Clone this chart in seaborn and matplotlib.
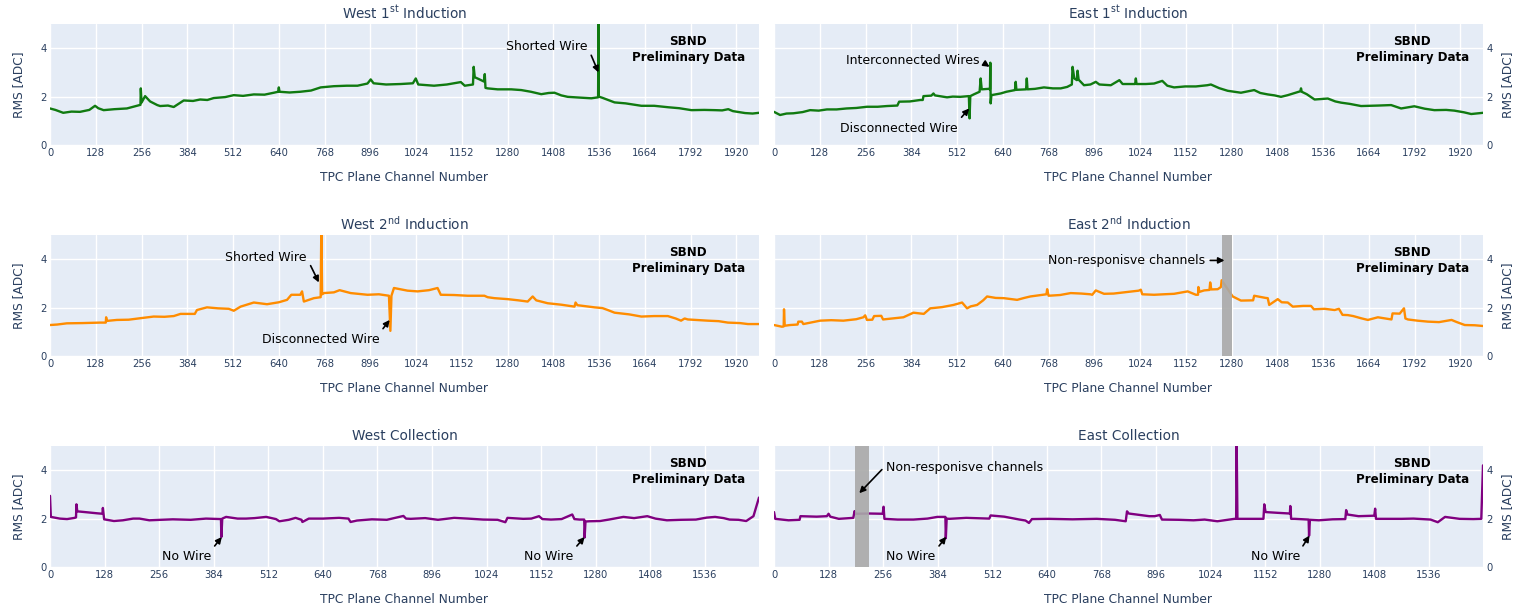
import numpy as np
import pandas as pd
import matplotlib
matplotlib.use("Agg")
import matplotlib.pyplot as plt
import seaborn as sns

# ---------------------------------------------------------------
# Channel RMS per TPC plane (breakpoints: channel, RMS [ADC])
# ---------------------------------------------------------------
w1_ch = [0, 15, 37, 60, 84, 110, 126, 135, 150, 180, 215, 243, 253, 254, 256, 266, 280, 300,
         308, 330, 346, 374, 400, 420, 440, 458, 490, 514, 540, 570, 600, 626, 638, 640, 642,
         670, 700, 730, 757, 794, 830, 860, 888, 897, 905, 940, 981, 1015, 1023, 1030, 1074,
         1110, 1149, 1160, 1183, 1185, 1188, 1200, 1214, 1216, 1218, 1224, 1252, 1290, 1318,
         1345, 1374, 1395, 1411, 1430, 1448, 1480, 1514, 1533, 1534, 1535, 1545, 1579, 1610,
         1654, 1690, 1729, 1760, 1794, 1830, 1860, 1880, 1897, 1910, 1944, 1965, 1983]
w1_rms = [1.51, 1.45, 1.33, 1.38, 1.37, 1.45, 1.62, 1.52, 1.44, 1.48, 1.51, 1.62, 1.66, 2.34,
          1.75, 2.02, 1.80, 1.65, 1.61, 1.63, 1.57, 1.84, 1.82, 1.88, 1.86, 1.94, 1.98, 2.06,
          2.03, 2.09, 2.08, 2.16, 2.20, 2.38, 2.20, 2.17, 2.20, 2.25, 2.38, 2.43, 2.45, 2.45,
          2.54, 2.71, 2.55, 2.50, 2.52, 2.55, 2.75, 2.50, 2.45, 2.50, 2.60, 2.45, 2.50, 3.23,
          2.80, 2.72, 2.62, 2.93, 2.36, 2.34, 2.30, 2.30, 2.27, 2.20, 2.10, 2.15, 2.16, 2.05,
          1.99, 1.96, 1.93, 1.97, 5.50, 2.00, 1.95, 1.76, 1.72, 1.62, 1.62, 1.56, 1.52, 1.44,
          1.45, 1.44, 1.43, 1.48, 1.40, 1.32, 1.30, 1.33]

e1_ch = [0, 17, 35, 54, 80, 101, 125, 148, 175, 203, 230, 260, 290, 316, 345, 350, 380, 409,
         416, 418, 440, 446, 450, 484, 500, 521, 545, 547, 549, 560, 575, 578, 581, 600, 604,
         605, 606, 608, 634, 650, 674, 676, 678, 705, 707, 709, 730, 755, 780, 802, 820, 833,
         835, 840, 847, 849, 852, 867, 885, 900, 910, 942, 966, 975, 1010, 1012, 1014, 1040,
         1063, 1086, 1100, 1119, 1150, 1180, 1212, 1222, 1245, 1269, 1306, 1343, 1360, 1381,
         1400, 1418, 1437, 1472, 1474, 1476, 1490, 1512, 1549, 1570, 1586, 1610, 1642, 1690,
         1726, 1754, 1791, 1820, 1847, 1880, 1903, 1930, 1950, 1983]
e1_rms = [1.37, 1.24, 1.30, 1.31, 1.36, 1.44, 1.42, 1.47, 1.47, 1.51, 1.53, 1.58, 1.58, 1.61,
          1.63, 1.79, 1.80, 1.86, 1.86, 2.02, 2.04, 2.13, 2.05, 1.97, 2.00, 1.99, 2.02, 1.10,
          2.02, 2.10, 2.20, 2.75, 2.30, 2.32, 2.30, 3.40, 1.72, 2.06, 2.13, 2.20, 2.27, 2.61,
          2.28, 2.30, 2.75, 2.30, 2.32, 2.38, 2.34, 2.34, 2.40, 2.50, 3.23, 2.75, 2.68, 3.07,
          2.70, 2.47, 2.50, 2.61, 2.50, 2.47, 2.68, 2.52, 2.52, 2.75, 2.52, 2.52, 2.54, 2.65,
          2.45, 2.38, 2.42, 2.42, 2.47, 2.50, 2.35, 2.24, 2.16, 2.27, 2.15, 2.09, 2.05, 1.99,
          2.06, 2.22, 2.34, 2.20, 2.10, 1.88, 1.92, 1.80, 1.75, 1.70, 1.61, 1.63, 1.65, 1.51,
          1.60, 1.50, 1.44, 1.45, 1.42, 1.35, 1.28, 1.33]

w2_ch = [0, 20, 47, 90, 140, 156, 157, 159, 187, 220, 252, 290, 320, 346, 365, 405, 411, 439,
         470, 500, 514, 533, 570, 607, 640, 663, 675, 700, 705, 710, 738, 757, 759, 761, 766,
         794, 810, 841, 888, 920, 948, 952, 955, 962, 1000, 1028, 1060, 1084, 1093, 1130, 1168,
         1215, 1224, 1243, 1280, 1310, 1336, 1350, 1360, 1392, 1430, 1467, 1470, 1475, 1523,
         1545, 1560, 1579, 1620, 1654, 1690, 1728, 1750, 1765, 1775, 1784, 1840, 1870, 1896,
         1930, 1952, 1983]
w2_rms = [1.28, 1.30, 1.35, 1.36, 1.38, 1.38, 1.60, 1.45, 1.49, 1.50, 1.56, 1.63, 1.62, 1.65,
          1.74, 1.74, 1.90, 2.01, 1.97, 1.95, 1.87, 2.04, 2.21, 2.14, 2.22, 2.32, 2.53, 2.53,
          2.67, 2.25, 2.39, 2.43, 5.50, 2.55, 2.60, 2.63, 2.72, 2.60, 2.53, 2.55, 2.49, 1.04,
          2.49, 2.81, 2.70, 2.67, 2.72, 2.81, 2.53, 2.52, 2.49, 2.49, 2.43, 2.39, 2.35, 2.30,
          2.25, 2.46, 2.30, 2.18, 2.12, 2.04, 2.21, 2.10, 2.01, 1.98, 1.90, 1.79, 1.72, 1.63,
          1.65, 1.65, 1.55, 1.46, 1.55, 1.51, 1.46, 1.44, 1.38, 1.36, 1.32, 1.32]

e2_ch = [0, 22, 27, 28, 30, 45, 66, 68, 78, 82, 129, 160, 194, 230, 250, 255, 260, 275, 280,
         300, 305, 362, 390, 419, 437, 470, 502, 526, 540, 550, 568, 585, 596, 620, 643, 680,
         700, 717, 762, 764, 768, 800, 830, 860, 885, 890, 900, 923, 950, 979, 1020, 1026, 1030,
         1063, 1090, 1119, 1157, 1180, 1186, 1187, 1190, 1203, 1218, 1220, 1223, 1241, 1250,
         1252, 1283, 1306, 1340, 1343, 1375, 1381, 1385, 1409, 1420, 1437, 1451, 1480, 1502,
         1510, 1540, 1568, 1580, 1590, 1605, 1620, 1642, 1661, 1689, 1710, 1727, 1730, 1750,
         1762, 1766, 1773, 1800, 1829, 1860, 1895, 1910, 1932, 1960, 1983]
e2_rms = [1.28, 1.21, 1.22, 1.93, 1.25, 1.28, 1.30, 1.42, 1.42, 1.32, 1.46, 1.48, 1.46, 1.52,
          1.60, 1.68, 1.49, 1.50, 1.65, 1.66, 1.51, 1.60, 1.79, 1.74, 1.97, 2.02, 2.11, 2.21,
          1.97, 2.05, 2.11, 2.30, 2.46, 2.40, 2.39, 2.32, 2.40, 2.46, 2.55, 2.76, 2.49, 2.52,
          2.60, 2.58, 2.55, 2.53, 2.71, 2.57, 2.58, 2.63, 2.70, 2.74, 2.55, 2.53, 2.55, 2.57,
          2.67, 2.53, 2.53, 2.85, 2.65, 2.71, 2.73, 3.04, 2.75, 2.76, 2.85, 3.13, 2.46, 2.29,
          2.30, 2.49, 2.40, 2.39, 2.11, 2.35, 2.22, 2.21, 2.04, 2.07, 2.07, 1.93, 1.95, 1.90,
          1.95, 1.70, 1.69, 1.65, 1.56, 1.49, 1.60, 1.55, 1.51, 1.76, 1.75, 1.97, 1.55, 1.51,
          1.46, 1.42, 1.40, 1.49, 1.40, 1.28, 1.27, 1.24]

wc_ch = [0, 2, 23, 40, 58, 61, 62, 64, 93, 110, 123, 124, 127, 150, 171, 195, 210, 233, 260,
         288, 330, 366, 401, 402, 404, 413, 440, 460, 480, 507, 530, 538, 560, 576, 590, 592,
         607, 640, 678, 700, 705, 720, 755, 790, 829, 835, 846, 880, 910, 948, 980, 1016, 1050,
         1068, 1073, 1110, 1129, 1147, 1155, 1175, 1200, 1225, 1230, 1242, 1253, 1254, 1256,
         1265, 1290, 1311, 1345, 1370, 1401, 1420, 1447, 1480, 1515, 1540, 1560, 1580, 1594,
         1615, 1633, 1650, 1663]
wc_rms = [2.94, 2.07, 2.00, 1.98, 2.03, 2.05, 2.59, 2.30, 2.25, 2.22, 2.20, 2.44, 1.97, 1.90,
          1.93, 2.00, 2.00, 1.93, 1.95, 1.97, 1.95, 2.00, 1.98, 1.24, 2.00, 2.07, 2.00, 2.00,
          2.02, 2.07, 1.98, 1.89, 1.95, 2.03, 1.95, 1.86, 2.00, 2.00, 2.03, 2.00, 1.86, 1.92,
          1.97, 1.95, 2.11, 2.00, 1.99, 2.02, 1.95, 2.03, 2.00, 1.96, 1.95, 1.85, 2.03, 1.99,
          2.00, 2.10, 1.98, 1.96, 1.98, 2.17, 1.98, 1.96, 1.96, 1.22, 1.88, 1.89, 1.90, 1.96,
          2.07, 2.02, 2.10, 2.00, 1.93, 1.95, 1.96, 2.04, 2.07, 2.02, 1.96, 1.95, 1.90, 2.10,
          2.87]

ec_ch = [0, 3, 34, 60, 62, 100, 124, 128, 132, 152, 186, 189, 192, 224, 255, 257, 259, 290,
         327, 360, 383, 402, 403, 405, 411, 451, 505, 508, 540, 576, 590, 598, 605, 644, 700,
         757, 800, 825, 828, 832, 880, 893, 905, 910, 950, 984, 1010, 1040, 1080, 1084, 1085,
         1087, 1097, 1148, 1150, 1153, 1180, 1210, 1211, 1213, 1221, 1254, 1255, 1257, 1278,
         1310, 1340, 1342, 1345, 1371, 1408, 1410, 1412, 1440, 1472, 1500, 1540, 1557, 1574,
         1608, 1640, 1659, 1663]
ec_rms = [2.27, 1.99, 1.93, 1.95, 2.10, 2.08, 2.10, 2.20, 2.08, 1.99, 2.03, 2.31, 2.20, 2.21,
          2.20, 2.49, 1.99, 1.96, 1.96, 2.00, 2.07, 2.07, 1.19, 2.00, 1.99, 2.03, 2.00, 2.13,
          2.08, 1.96, 1.92, 1.82, 1.98, 1.99, 1.97, 1.99, 1.95, 1.89, 2.30, 2.21, 2.10, 2.10,
          2.15, 1.96, 1.95, 1.93, 1.96, 1.89, 1.99, 1.99, 5.50, 1.99, 1.99, 1.99, 2.59, 2.27,
          2.24, 2.21, 2.52, 1.99, 1.99, 1.96, 1.29, 1.95, 1.93, 1.97, 1.98, 2.35, 2.17, 2.10,
          2.12, 2.41, 1.99, 1.99, 1.99, 2.00, 1.96, 1.85, 2.07, 1.99, 1.98, 1.99, 4.20]

# Non-responsive channel ranges (shaded bands)
e2_dead = (1252, 1282)
ec_dead = (190, 224)

induction_ticks = list(range(0, 1921, 128))
collection_ticks = list(range(0, 1537, 128))

# ---------------------------------------------------------------
# Style
# ---------------------------------------------------------------
sns.set_theme(style="darkgrid", rc={
    "axes.facecolor": "#E5ECF6",
    "grid.color": "white",
    "grid.linewidth": 1.0,
    "figure.facecolor": "white",
})
plt.rcParams["font.family"] = ["DejaVu Sans"]
plt.rcParams["mathtext.fontset"] = "dejavusans"

TXT = "#2a3f5f"
GREEN = "#107a10"
ORANGE = "#ff8c00"
PURPLE = "#800080"

fig = plt.figure(figsize=(15.16, 6.06), dpi=100)

W = 709 / 1516
lefts = [50 / 1516, 774 / 1516]
rows = [(606 - 145) / 606, (606 - 356) / 606, (606 - 567) / 606]
H = 121 / 606

panels = [
    # (row, col, title, ch, rms, color, xmax, ticks)
    (0, 0, r"West 1$^{\mathrm{st}}$ Induction", w1_ch, w1_rms, GREEN, 1983, induction_ticks),
    (0, 1, r"East 1$^{\mathrm{st}}$ Induction", e1_ch, e1_rms, GREEN, 1983, induction_ticks),
    (1, 0, r"West 2$^{\mathrm{nd}}$ Induction", w2_ch, w2_rms, ORANGE, 1983, induction_ticks),
    (1, 1, r"East 2$^{\mathrm{nd}}$ Induction", e2_ch, e2_rms, ORANGE, 1983, induction_ticks),
    (2, 0, "West Collection", wc_ch, wc_rms, PURPLE, 1663, collection_ticks),
    (2, 1, "East Collection", ec_ch, ec_rms, PURPLE, 1663, collection_ticks),
]

axes = {}
for r, c, title, ch, rms, color, xmax, ticks in panels:
    ax = fig.add_axes([lefts[c], rows[r], W, H])
    axes[(r, c)] = ax
    df = pd.DataFrame({"channel": ch, "rms": rms})
    sns.lineplot(data=df, x="channel", y="rms", ax=ax, color=color, linewidth=1.7,
                 estimator=None, sort=False, zorder=3)
    ax.set_xlim(0, xmax)
    ax.set_ylim(0, 5)
    ax.set_xticks(ticks)
    ax.set_yticks([0, 2, 4])
    ax.tick_params(axis="both", length=0, labelsize=7.2, colors=TXT, pad=2.5)
    for s in ax.spines.values():
        s.set_visible(False)
    ax.set_title(title, fontsize=9.8, color=TXT, pad=4)
    ax.set_xlabel("TPC Plane Channel Number", fontsize=8.8, color=TXT, labelpad=9)
    if c == 1:
        ax.yaxis.tick_right()
        ax.yaxis.set_label_position("right")
        ax.set_ylabel("RMS [ADC]", fontsize=8.8, color=TXT, labelpad=6)
    else:
        ax.set_ylabel("RMS [ADC]", fontsize=8.8, color=TXT, labelpad=11)
    ax.text(0.9, 0.79, "SBND\nPreliminary Data", transform=ax.transAxes,
            ha="center", va="center", fontsize=8.6, fontweight="bold",
            color="black", linespacing=1.35, zorder=6)

# Shaded bands for non-responsive channels
for key, band in [((1, 1), e2_dead), ((2, 1), ec_dead)]:
    axes[key].axvspan(band[0], band[1], color="#a9a9a9", alpha=0.9, lw=0, zorder=4)

# Annotations: (panel, text, head channel, head rms, text channel, text rms, ha, relpos)
notes = [
    ((0, 0), "Shorted Wire", 1534, 3.0, 1503, 4.08, "right", (1.0, 0.5)),
    ((0, 1), "Interconnected Wires", 603, 3.23, 575, 3.5, "right", (1.0, 0.5)),
    ((0, 1), "Disconnected Wire", 546, 1.51, 514, 0.70, "right", (1.0, 1.0)),
    ((1, 0), "Shorted Wire", 752, 3.04, 718, 4.06, "right", (1.0, 0.5)),
    ((1, 0), "Disconnected Wire", 950, 1.49, 922, 0.68, "right", (1.0, 1.0)),
    ((1, 1), "Non-responisve channels", 1260, 3.95, 1207, 3.95, "right", (1.0, 0.5)),
    ((2, 0), "No Wire", 403, 1.24, 378, 0.42, "right", (1.0, 1.0)),
    ((2, 0), "No Wire", 1254, 1.24, 1227, 0.42, "right", (1.0, 1.0)),
    ((2, 1), "No Wire", 404, 1.25, 379, 0.42, "right", (1.0, 1.0)),
    ((2, 1), "No Wire", 1256, 1.3, 1234, 0.42, "right", (1.0, 1.0)),
    ((2, 1), "Non-responisve channels", 200, 3.05, 263, 4.1, "left", (0.0, 0.7)),
]
for key, txt, hx, hy, tx, ty, ha, rp in notes:
    axes[key].annotate(txt, xy=(hx, hy), xytext=(tx, ty), ha=ha, va="center",
                       fontsize=9, color="black", zorder=7,
                       arrowprops=dict(arrowstyle="-|>", color="black", lw=1.2,
                                       mutation_scale=9, shrinkA=1, shrinkB=0,
                                       relpos=rp))

fig.savefig("out.png", dpi=100)
